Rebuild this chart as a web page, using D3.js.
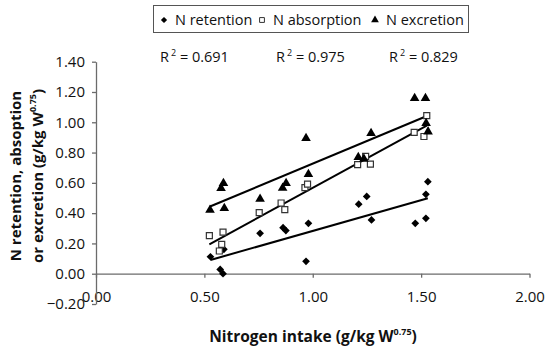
<!DOCTYPE html>
<html>
<head>
<meta charset="utf-8">
<script src="https://cdn.jsdelivr.net/npm/d3@7"></script>
<style>
  body { margin: 0; background: #fff; }
  svg { font-family: "Open Sans", sans-serif; }
</style>
</head>
<body>
<svg id="chart" width="550" height="350"></svg>
<script>
// nitrogen intake (g/kg W^0.75) for each series
const retentionX = [0.528, 0.590, 0.573, 0.586, 0.757, 0.863, 0.876, 0.980, 0.969, 1.212, 1.249, 1.271, 1.473, 1.522, 1.522, 1.531]
const retentionY = [0.112, 0.161, 0.028, 0.000, 0.267, 0.304, 0.285, 0.333, 0.082, 0.459, 0.510, 0.355, 0.333, 0.366, 0.524, 0.608]

const absorptionX = [0.523, 0.586, 0.580, 0.569, 0.753, 0.854, 0.871, 0.964, 0.976, 1.207, 1.244, 1.266, 1.468, 1.513, 1.526]
const absorptionY = [0.251, 0.275, 0.194, 0.150, 0.403, 0.467, 0.423, 0.569, 0.591, 0.720, 0.775, 0.723, 0.933, 0.906, 1.044]

const excretionX = [0.526, 0.592, 0.577, 0.588, 0.757, 0.861, 0.877, 0.969, 0.980, 1.210, 1.236, 1.269, 1.470, 1.520, 1.523, 1.532]
const excretionY = [0.421, 0.432, 0.564, 0.597, 0.493, 0.566, 0.597, 0.894, 0.657, 0.769, 0.758, 0.927, 1.158, 1.158, 0.993, 0.938]

const seriesNames = ["N retention", "N absorption", "N excretion"]
const r2Values = ["0.691", "0.975", "0.829"]
const xTicks = [0, 0.5, 1, 1.5, 2]
const yTicks = [-0.2, 0, 0.2, 0.4, 0.6, 0.8, 1.0, 1.2, 1.4]

const svg = d3.select('#chart')

const x = d3.scaleLinear().domain([0, 2]).range([96, 529.5])
const y = d3.scaleLinear().domain([-0.2, 1.4]).range([304, 61.7])

const axisColor = '#6b6b6b'

// axes
const gx = svg.append('g')
  .attr('transform', `translate(0,${y(0)})`)
  .call(d3.axisBottom(x).tickValues(xTicks).tickFormat(d3.format('.2f'))
    .tickSize(4).tickSizeOuter(0).tickPadding(14))
const gy = svg.append('g')
  .attr('transform', `translate(${x(0)},0)`)
  .call(d3.axisLeft(y).tickValues(yTicks).tickFormat(d3.format('.2f'))
    .tickSize(4).tickSizeOuter(0).tickPadding(7))

;[gx, gy].forEach(g => {
  g.select('.domain').attr('stroke', axisColor).attr('stroke-width', 1.3)
  g.selectAll('.tick line').attr('stroke', axisColor).attr('stroke-width', 1.3)
  g.selectAll('.tick text').attr('fill', '#111').style('font-size', '15px')
    .style('font-family', '"Open Sans", sans-serif')
})

// data (diamonds = squares turned 45 degrees, like excel markers)
const series = [
  { name: seriesNames[0], xs: retentionX, ys: retentionY, symbol: d3.symbolSquare, rot: 45, size: 30, fill: '#000', stroke: 'none' },
  { name: seriesNames[1], xs: absorptionX, ys: absorptionY, symbol: d3.symbolSquare, rot: 0, size: 36, fill: '#fff', stroke: '#333' },
  { name: seriesNames[2], xs: excretionX, ys: excretionY, symbol: d3.symbolTriangle, rot: 0, size: 40, fill: '#000', stroke: 'none' }
]

// least squares trend lines
function fit(xs, ys) {
  const mx = d3.mean(xs), my = d3.mean(ys)
  let sxy = 0, sxx = 0
  xs.forEach((v, i) => { sxy += (v - mx) * (ys[i] - my); sxx += (v - mx) * (v - mx) })
  const b = sxy / sxx
  const a = my - b * mx
  const x0 = d3.min(xs), x1 = d3.max(xs)
  return [[x0, a + b * x0], [x1, a + b * x1]]
}

const line = d3.line().x(d => x(d[0])).y(d => y(d[1]))

series.forEach(s => {
  svg.append('path')
    .attr('d', line(fit(s.xs, s.ys)))
    .attr('stroke', '#000')
    .attr('stroke-width', 2)
    .attr('fill', 'none')
})

series.forEach(s => {
  const pts = s.xs.map((v, i) => [v, s.ys[i]])
  svg.append('g').selectAll('path')
    .data(pts)
    .join('path')
    .attr('d', d3.symbol().type(s.symbol).size(s.size))
    .attr('transform', d => `translate(${x(d[0])},${y(d[1])}) rotate(${s.rot})`)
    .attr('fill', s.fill)
    .attr('stroke', s.stroke)
    .attr('stroke-width', 1.2)
})

// legend
svg.append('rect')
  .attr('x', 153.5).attr('y', 5.5)
  .attr('width', 315).attr('height', 27)
  .attr('fill', 'none').attr('stroke', '#555').attr('stroke-width', 1)

const legendX = [164, 262, 375]
series.forEach((s, i) => {
  svg.append('path')
    .attr('d', d3.symbol().type(s.symbol).size(s.size * 0.65))
    .attr('transform', `translate(${legendX[i]},${20}) rotate(${s.rot})`)
    .attr('fill', s.fill)
    .attr('stroke', s.stroke)
    .attr('stroke-width', 1)
  svg.append('text')
    .attr('x', legendX[i] + 11)
    .attr('y', 25)
    .style('font-size', '14.5px')
    .attr('fill', '#111')
    .text(s.name)
})

// R squared labels
const r2X = [160, 276, 389]
r2Values.forEach((v, i) => {
  const t = svg.append('text')
    .attr('x', r2X[i]).attr('y', 62)
    .style('font-size', '14.5px')
    .attr('fill', '#111')
  t.append('tspan').text('R')
  t.append('tspan').attr('dy', -6).attr('dx', 2).style('font-size', '9px').text('2')
  t.append('tspan').attr('dy', 6).text(' = ' + v)
})

// axis titles
const xt = svg.append('text')
  .attr('x', 313).attr('y', 342)
  .attr('text-anchor', 'middle')
  .style('font-size', '15.5px').style('font-weight', 'bold')
  .attr('fill', '#111')
xt.append('tspan').text('Nitrogen intake (g/kg W')
xt.append('tspan').attr('dy', -7).style('font-size', '9px').text('0.75')
xt.append('tspan').attr('dy', 7).text(')')

const yTitle = svg.append('g')
  .attr('transform', 'translate(0,176) rotate(-90)')
yTitle.append('text')
  .attr('x', 0).attr('y', 21)
  .attr('text-anchor', 'middle')
  .style('font-size', '15px').style('font-weight', 'bold')
  .attr('fill', '#111')
  .text('N retention, absoption')
const yl2 = yTitle.append('text')
  .attr('x', 0).attr('y', 43)
  .attr('text-anchor', 'middle')
  .style('font-size', '15px').style('font-weight', 'bold')
  .attr('fill', '#111')
yl2.append('tspan').text('or excretion (g/kg W')
yl2.append('tspan').attr('dy', -7).style('font-size', '9px').text('0.75')
yl2.append('tspan').attr('dy', 7).text(')')
</script>
</body>
</html>
